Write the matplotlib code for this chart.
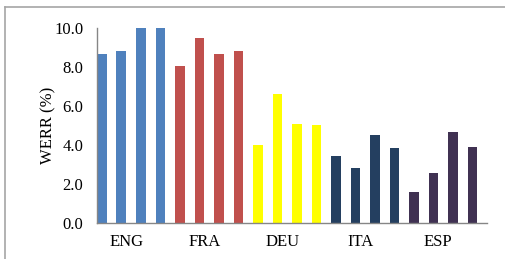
import matplotlib
matplotlib.use("Agg")
import matplotlib.pyplot as plt
from matplotlib.lines import Line2D

categories = ["ENG", "FRA", "DEU", "ITA", "ESP"]
eng = [8.65, 8.80, 10.0, 10.0]
fra = [8.05, 9.49, 8.68, 8.82]
deu = [3.99, 6.61, 5.07, 5.02]
ita = [3.43, 2.81, 4.50, 3.84]
esp = [1.58, 2.55, 4.66, 3.89]
colors = ["#4F81BD", "#C0504D", "#FFFF00", "#243F60", "#403152"]
yticks = [0, 2, 4, 6, 8, 10]

plt.rcParams['font.family'] = ['Liberation Serif', 'DejaVu Serif']

fig = plt.figure(figsize=(5.06, 2.59), dpi=100)
ax = fig.add_axes([97/506, 1-222.7/259, 390/506, (222.7-28)/259])

groups = [eng, fra, deu, ita, esp]
for g, (vals, c) in enumerate(zip(groups, colors)):
    xs = [4*g + k for k in range(len(vals))]
    ax.bar(xs, vals, width=0.5, align='edge', color=c, linewidth=0)

ax.set_xlim(0, 20)
ax.set_ylim(0, 10)
ax.set_yticks(yticks)
ax.set_yticklabels([f"{v:.1f}" for v in yticks], fontsize=12)
ax.set_xticks([4*g + 1.5 for g in range(len(categories))])
ax.set_xticklabels(categories, fontsize=12)
ax.tick_params(axis='y', length=0, pad=10)
ax.tick_params(axis='x', length=0, pad=8)
ax.set_ylabel("WERR (%)", fontsize=12)
ax.yaxis.set_label_coords(-0.105, 0.5)
for s in ['top', 'right']:
    ax.spines[s].set_visible(False)
for s in ['left', 'bottom']:
    ax.spines[s].set_color('#868686')
    ax.spines[s].set_linewidth(1.0)

# chart frame (partially cropped)
fig.add_artist(Line2D([5/506, 1.0], [1-7/259, 1-7/259], transform=fig.transFigure,
                      color='#A6A6A6', linewidth=1.2))
fig.add_artist(Line2D([5/506, 5/506], [0.0, 1-7/259], transform=fig.transFigure,
                      color='#A6A6A6', linewidth=1.2))

fig.savefig("out.png", dpi=100)
